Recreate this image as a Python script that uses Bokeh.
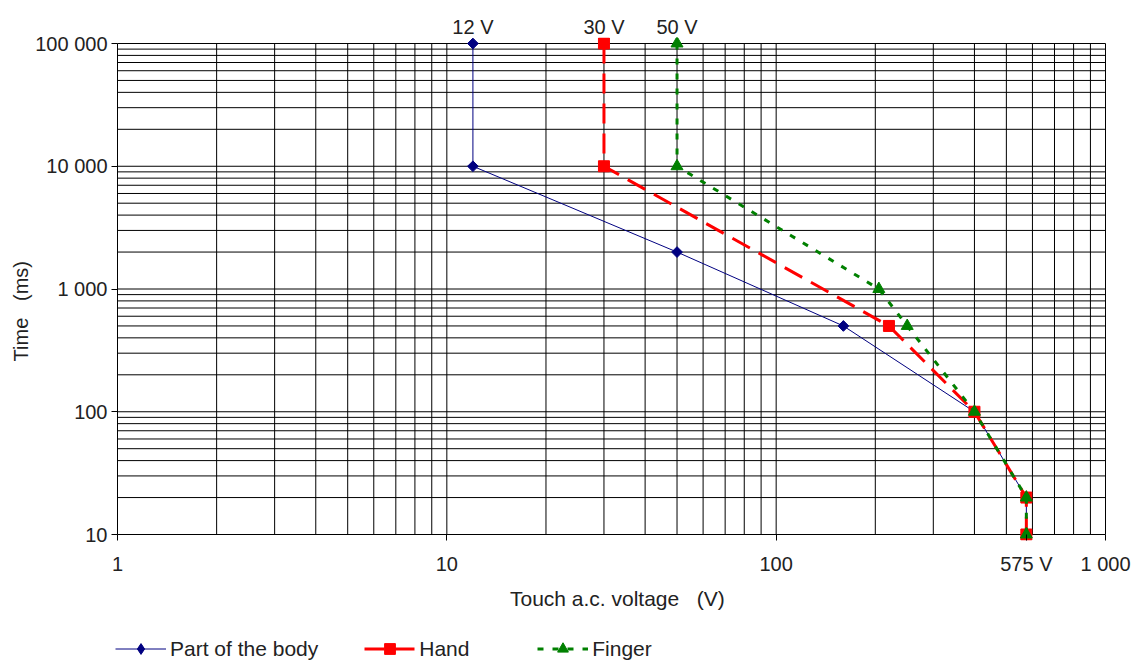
from bokeh.plotting import figure
from bokeh.layouts import column
from bokeh.models import (Range1d, FixedTicker, LogAxis, Legend, LegendItem)
from bokeh.embed import file_html
from bokeh.resources import INLINE

# ---- data ----
body_v = [12, 12, 50, 160, 400, 575, 575]
body_t = [100000, 10000, 2000, 500, 100, 20, 10]
hand_v = [30, 30, 220, 400, 575, 575]
hand_t = [100000, 10000, 500, 100, 20, 10]
finger_v = [50, 50, 205, 250, 400, 575, 575]
finger_t = [100000, 10000, 1000, 500, 100, 20, 10]

series_names = ["Part of the body", "Hand", "Finger"]

x_ticks = [1, 10, 100, 575, 1000]
x_tick_labels = ["1", "10", "100", "575 V", "1 000"]
y_ticks = [10, 100, 1000, 10000, 100000]
y_tick_labels = ["10", "100", "1 000", "10 000", "100 000"]
top_ticks = [12, 30, 50]
top_tick_labels = ["12 V", "30 V", "50 V"]

X_MIN, X_MAX = 1, 1000
Y_MIN, Y_MAX = 10, 100000

FONT = "Liberation Sans"
FS = "20px"
FS_BIG = "21px"
TXT = "#222222"
NB = "\u00a0"

STYLES = [
    dict(color="#000080", width=1, dash="solid", marker="square", angle=0.785398,
         size=7.6, leg_marker="diamond", leg_size=12),
    dict(color="#FF0000", width=3, dash="20 10", marker="square", angle=0.0,
         size=11, leg_marker="square", leg_size=11),
    dict(color="#008000", width=3, dash="6 9", marker="triangle", angle=0.0,
         size=12, leg_marker="triangle", leg_size=12),
]

# The plotted box is 988 x 491 px; the frame is padded by PAD px so that
# markers on the box edge are not clipped.
BOX_W, BOX_H, PAD = 988, 491, 6
MAIN_H, LEG_H = 620, 43
dx = 10 ** (PAD * 3 / BOX_W)      # 3 decades across
dy = 10 ** (PAD * 4 / BOX_H)      # 4 decades down

p = figure(width=1137, height=MAIN_H, x_axis_type="log", y_axis_type="log",
           x_range=Range1d(X_MIN / dx, X_MAX * dx),
           y_range=Range1d(Y_MIN / dy, Y_MAX * dy),
           output_backend="svg", toolbar_location=None,
           frame_width=BOX_W + 2 * PAD, frame_height=BOX_H + 2 * PAD,
           min_border_left=117 - PAD, min_border_right=32 - PAD,
           min_border_top=43 - PAD,
           min_border_bottom=MAIN_H - (43 - PAD) - (BOX_H + 2 * PAD))
p.background_fill_color = "white"
p.border_fill_color = "white"
p.outline_line_color = None
p.xgrid.visible = False
p.ygrid.visible = False

# grid lines + box (log decades with 2..9 subdivisions)
x_grid = [m * 10 ** e for e in range(0, 3) for m in range(1, 10)] + [1000]
y_grid = [m * 10 ** e for e in range(1, 5) for m in range(1, 10)] + [100000]
p.segment(x0=x_grid, y0=[Y_MIN] * len(x_grid), x1=x_grid, y1=[Y_MAX] * len(x_grid),
          line_color="black", line_width=1)
p.segment(x0=[X_MIN] * len(y_grid), y0=y_grid, x1=[X_MAX] * len(y_grid), y1=y_grid,
          line_color="black", line_width=1)

# x axis
xa = p.xaxis[0]
xa.ticker = FixedTicker(ticks=x_ticks)
xa.major_label_overrides = {t: l for t, l in zip(x_ticks, x_tick_labels)}
xa.axis_label = NB * 2 + "Touch a.c. voltage" + NB + NB + " (V)"
# y axis
ya = p.yaxis[0]
ya.ticker = FixedTicker(ticks=y_ticks)
ya.major_label_overrides = {t: l for t, l in zip(y_ticks, y_tick_labels)}
ya.axis_label = "Time" + NB + NB + " (ms)" + NB * 8

for ax in (xa, ya):
    ax.axis_line_color = None
    ax.major_tick_line_color = "black"
    ax.major_tick_out = 0
    ax.major_tick_in = PAD
    ax.minor_tick_out = 0
    ax.minor_tick_in = 0
    ax.minor_tick_line_color = None
    ax.major_label_text_font = FONT
    ax.major_label_text_font_size = FS
    ax.major_label_text_color = TXT
    ax.axis_label_text_font = FONT
    ax.axis_label_text_font_style = "normal"
    ax.axis_label_text_color = TXT
xa.axis_label_text_font_size = FS_BIG
ya.axis_label_text_font_size = FS
xa.major_label_standoff = 12
xa.axis_label_standoff = 9
ya.major_label_standoff = 4
ya.axis_label_standoff = 0

# top voltage labels
top = LogAxis(ticker=FixedTicker(ticks=top_ticks),
              major_label_overrides={t: l for t, l in zip(top_ticks, top_tick_labels)})
top.axis_line_color = None
top.major_tick_line_color = None
top.minor_tick_line_color = None
top.major_tick_out = 0
top.major_tick_in = 0
top.major_label_standoff = 0
top.major_label_text_font = FONT
top.major_label_text_font_size = FS
top.major_label_text_color = TXT
p.add_layout(top, "above")

series_x = [body_v, hand_v, finger_v]
series_y = [body_t, hand_t, finger_t]

# series
for xs, ys, st in zip(series_x, series_y, STYLES):
    p.line(xs, ys, line_color=st["color"], line_width=st["width"], line_dash=st["dash"])
    p.scatter(xs, ys, marker=st["marker"], angle=st["angle"], size=st["size"],
              fill_color=st["color"], line_color=st["color"])

# legend strip below the chart: same series, drawn outside this strip's view
lf = figure(width=1137, height=LEG_H, output_backend="svg", toolbar_location=None,
            min_border=0, x_range=Range1d(0, 1), y_range=Range1d(0, 1))
lf.axis.visible = False
lf.grid.visible = False
lf.outline_line_color = None
lf.background_fill_color = "white"
lf.border_fill_color = "white"
items = []
for name, xs, ys, st in zip(series_names, series_x, series_y, STYLES):
    r1 = lf.line(xs, ys, line_color=st["color"], line_width=st["width"],
                 line_dash=st["dash"])
    r2 = lf.scatter(xs, ys, marker=st["leg_marker"], size=st["leg_size"],
                    fill_color=st["color"], line_color=st["color"])
    items.append(LegendItem(label=name, renderers=[r1, r2]))

legend = Legend(items=items, location=(4, 1), orientation="horizontal",
                padding=0, margin=0, spacing=46, label_width=72,
                glyph_width=51, glyph_height=27, label_height=20,
                label_standoff=4,
                label_text_font=FONT, label_text_font_size=FS_BIG,
                label_text_color=TXT,
                border_line_color=None, background_fill_alpha=0)
lf.add_layout(legend, "center")

open("out.html", "w").write(file_html(column(p, lf, spacing=0), INLINE))
